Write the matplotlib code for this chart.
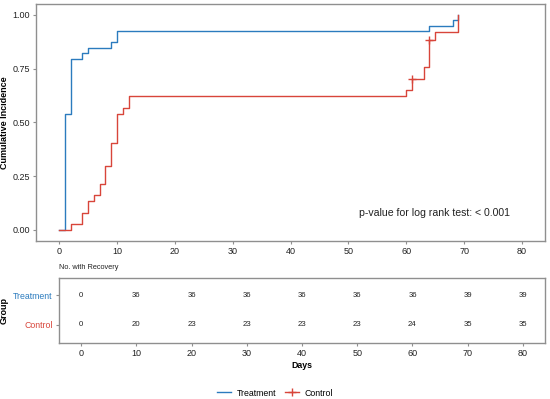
import matplotlib.pyplot as plt
from matplotlib.lines import Line2D

plt.rcParams['font.family'] = ['Liberation Sans', 'DejaVu Sans']

# --- data ---
days_ticks = [0, 10, 20, 30, 40, 50, 60, 70, 80]
inc_ticks = [0.0, 0.25, 0.5, 0.75, 1.0]

trt_time = [0, 1, 2, 4, 5, 9, 10, 64, 68, 69]
trt_inc = [0, 0.538, 0.795, 0.821, 0.846, 0.872, 0.923, 0.949, 0.974, 1.0]

ctl_time = [0, 2, 4, 5, 6, 7, 8, 9, 10, 11, 12, 60, 61, 63, 64, 65, 69]
ctl_inc = [0, 0.027, 0.081, 0.135, 0.162, 0.216, 0.297, 0.405, 0.541,
           0.568, 0.622, 0.649, 0.703, 0.757, 0.884, 0.921, 1.0]

ctl_cens_time = [61, 64]
ctl_cens_inc = [0.703, 0.884]

groups = ['Treatment', 'Control']
trt_counts = [0, 36, 36, 36, 36, 36, 36, 39, 39]
ctl_counts = [0, 20, 23, 23, 23, 23, 24, 35, 35]

BLUE = '#2B7BBE'
RED = '#D8453A'
SPINE = '#8f8f8f'
TXT = '#222222'

fig = plt.figure(figsize=(5.5, 3.99), dpi=100)

# main curve panel
ax = fig.add_axes([0.0655, 0.3967, 0.9255, 0.593])
ax.step(trt_time, trt_inc, where='post', color=BLUE, lw=1.0)
ax.step(ctl_time, ctl_inc, where='post', color=RED, lw=1.0)
ax.plot(ctl_cens_time, ctl_cens_inc, ls='none', marker='+', color=RED,
        markersize=6, markeredgewidth=1.0)
ax.set_xlim(-4, 84)
ax.set_ylim(-0.05, 1.05)
ax.set_xticks(days_ticks)
ax.set_yticks(inc_ticks)
ax.set_yticklabels([f'{v:.2f}' for v in inc_ticks])
ax.set_ylabel('Cumulative Incidence', fontsize=6.5, fontweight='bold', labelpad=2)
ax.text(51.9, 0.078, 'p-value for log rank test: < 0.001', fontsize=7.6,
        color=TXT, va='center', ha='left')

# risk table panel
tb = fig.add_axes([0.1073, 0.1411, 0.8836, 0.1629])
for x, a, b in zip(days_ticks, trt_counts, ctl_counts):
    tb.text(x, 2, str(a), ha='center', va='center', fontsize=5.6, color=TXT)
    tb.text(x, 1, str(b), ha='center', va='center', fontsize=5.6, color=TXT)
tb.set_xlim(-4, 84)
tb.set_ylim(0.4, 2.6)
tb.set_xticks(days_ticks)
tb.set_yticks([2, 1])
tb.set_yticklabels(groups)
tb.set_xlabel('Days', fontsize=6.3, fontweight='bold', labelpad=2)
tb.set_ylabel('Group', fontsize=6.5, fontweight='bold', labelpad=3)
tb.set_title('No. with Recovery', fontsize=5.3, loc='left', pad=6, color=TXT)

for a in (ax, tb):
    for s in a.spines.values():
        s.set_color(SPINE)
        s.set_linewidth(1.0)
    a.tick_params(colors=SPINE, length=2.5, width=0.8, pad=2)
    a.tick_params(axis='x', labelcolor=TXT, labelsize=6.5)
    a.tick_params(axis='y', labelsize=6.5, labelcolor=TXT)
tb.tick_params(axis='y', labelsize=6.3)

# group colours on the table labels
for lab, col in zip(tb.get_yticklabels(), [BLUE, RED]):
    lab.set_color(col)

# legend
handles = [Line2D([], [], color=BLUE, lw=1.0),
           Line2D([], [], color=RED, lw=1.0, marker='+', markersize=6)]
fig.legend(handles, groups, loc='center', bbox_to_anchor=(0.5, 0.015),
           ncol=2, frameon=False, fontsize=6.3, handlelength=1.6,
           columnspacing=1.0, handletextpad=0.6)

fig.savefig('out.png', dpi=100)
